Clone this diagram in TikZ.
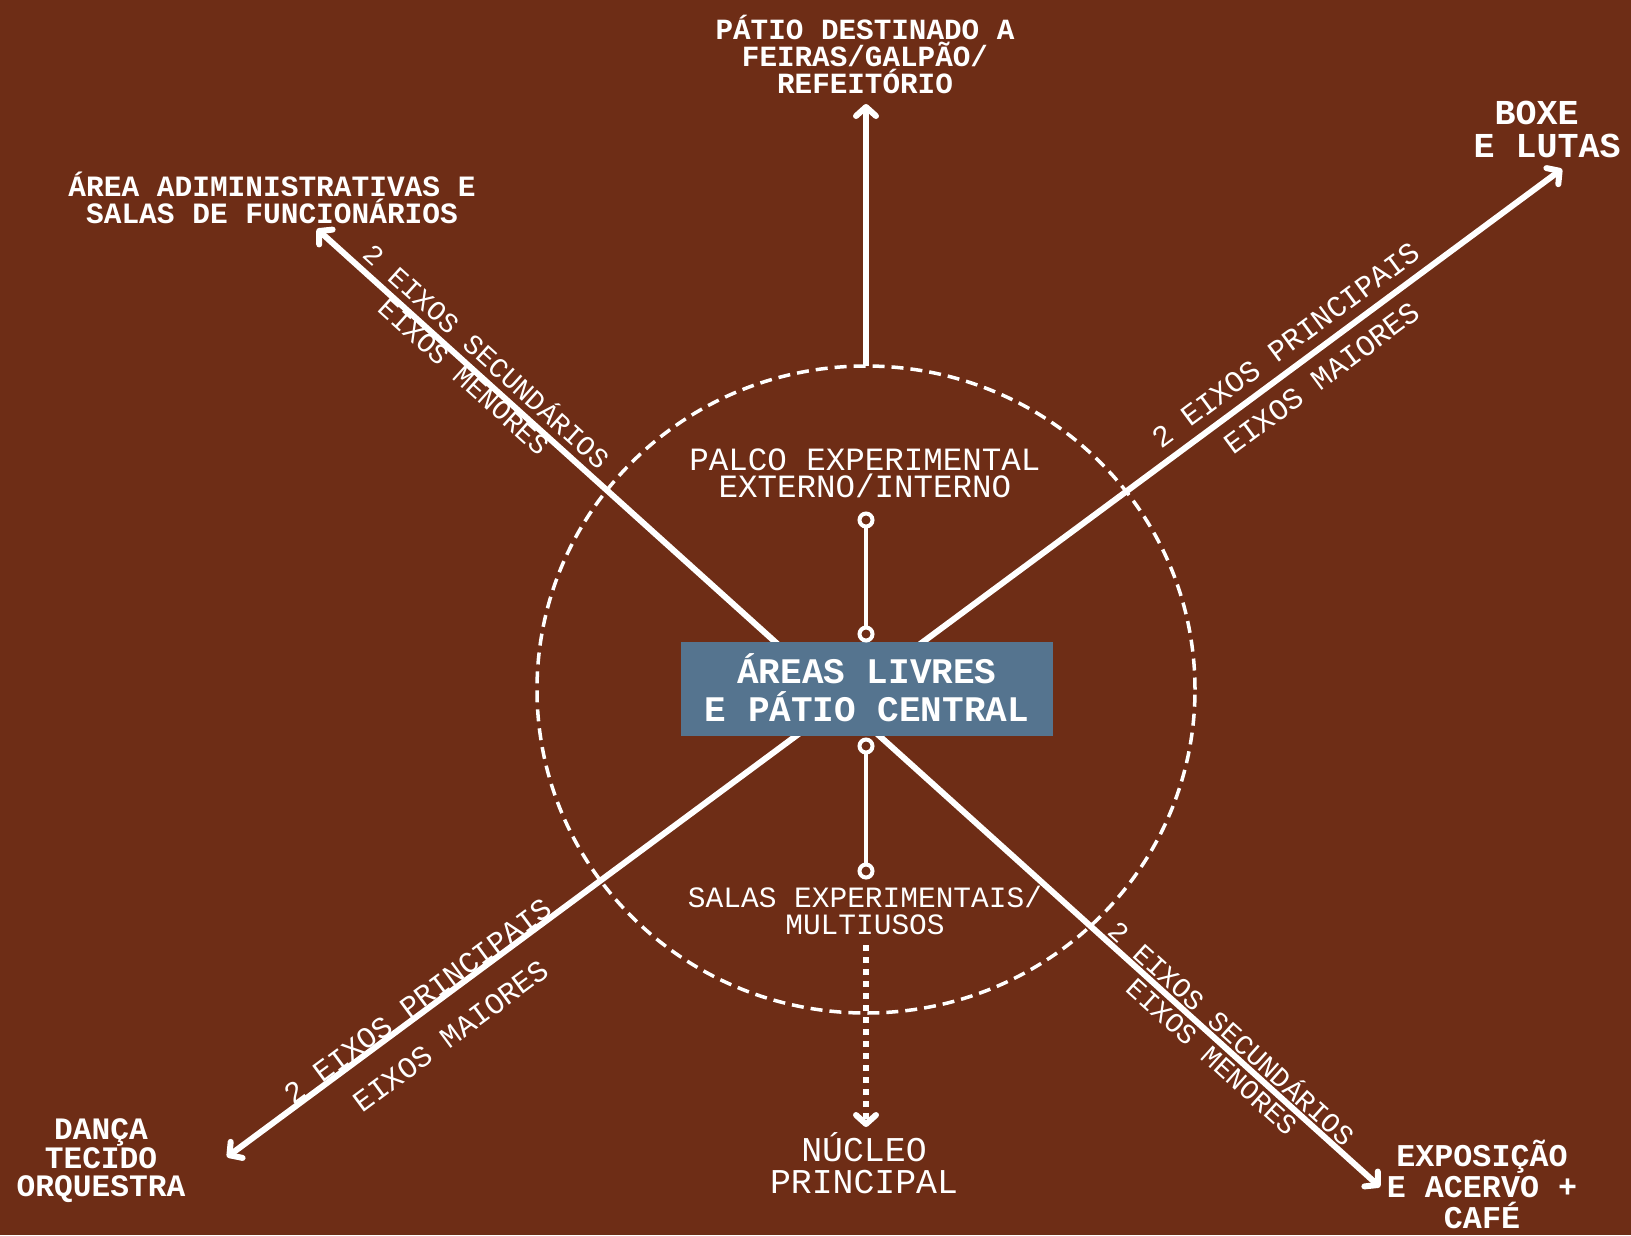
\documentclass[tikz,border=0pt]{standalone}
\usepackage{fontspec}
\usetikzlibrary{shapes.geometric, arrows.meta}
\newfontfamily\plexfont{Liberation Mono}
\definecolor{bgbrown}{RGB}{110, 45, 22}
\definecolor{boxblue}{RGB}{85, 116, 143}
\newcommand{\lblsz}[2]{\fontsize{#1}{#2}\selectfont}
\tikzstyle{bigbox} = [rectangle, fill=boxblue, text=white,
                      minimum width=372pt, minimum height=94pt,
                      inner sep=0pt, align=center,
                      font=\plexfont\bfseries\lblsz{36}{38}]
\tikzstyle{area} = [text=white, align=center, inner sep=0pt]
\tikzstyle{axistext} = [text=white, inner sep=0pt, font=\plexfont\lblsz{28}{30}]
\tikzstyle{joint} = [circle, draw=white, fill=bgbrown, line width=4pt,
                     minimum size=13pt, inner sep=0pt, outer sep=0pt]
\tikzstyle{stem} = [draw=white, line width=4pt]
\tikzstyle{ringline} = [ellipse, draw=white, line width=3.5pt,
                        dash pattern=on 12pt off 7pt,
                        minimum width=658pt, minimum height=647pt,
                        inner sep=0pt, outer sep=0pt]
\tikzstyle{axisline} = [draw=white, line width=6pt,
                        >={Straight Barb[length=9pt,width=20pt,round]}]
\tikzstyle{dotline} = [axisline, ->, dash pattern=on 6pt off 6pt]

\begin{document}
\begin{tikzpicture}[x=1pt, y=-1pt]

        \fill [bgbrown] (0,0) rectangle (1631,1235);
        \useasboundingbox (0,0) rectangle (1631,1235);

        \node (ring) [ringline] at (866,689.5) {};

        \coordinate (swtip) at (227,1157);
        \coordinate (netip) at (1562,169);
        \coordinate (nwtip) at (317,229);
        \coordinate (setip) at (1380,1187);
        \coordinate (toptip) at (866,104);

        \draw [axisline, <->] (swtip) -- (netip);
        \draw [axisline, <->] (nwtip) -- (setip);
        \draw [axisline, ->] (ring.north) -- (toptip);

        \node (centre) [bigbox] at (867,689) {\raisebox{3pt}{ÁREAS LIVRES}\\\raisebox{3pt}{E PÁTIO CENTRAL}};

        \node (j1) [joint] at (866,520) {};
        \node (j2) [joint] at (866,634) {};
        \node (j3) [joint] at (866,746) {};
        \node (j4) [joint] at (866,871) {};
        \draw [stem] (j1) -- (j2);
        \draw [stem] (j3) -- (j4);

        \node (patio) [area, font=\plexfont\bfseries\lblsz{29.3}{27}] at (865,54)
            {PÁTIO DESTINADO A\\FEIRAS/GALPÃO/\\REFEITÓRIO};
        \node (admin) [area, font=\plexfont\bfseries\lblsz{29.5}{27}] at (272,198)
            {ÁREA ADIMINISTRATIVAS E\\SALAS DE FUNCIONÁRIOS};
        \node (boxe) [area, font=\plexfont\bfseries\lblsz{35}{33}] at (1547,129)
            {BOXE\hphantom{X}\\E LUTAS};
        \node (danca) [area, font=\plexfont\bfseries\lblsz{31.2}{28.5}] at (101,1161)
            {DANÇA\\TECIDO\\ORQUESTRA};
        \node (expo) [area, font=\plexfont\bfseries\lblsz{31.7}{31}] at (1482,1184)
            {EXPOSIÇÃO\\E ACERVO +\\CAFÉ};

        \node (palco) [area, font=\plexfont\lblsz{32.5}{27}] at (865,473)
            {PALCO EXPERIMENTAL\\EXTERNO/INTERNO};
        \node (salas) [area, font=\plexfont\lblsz{29.5}{27}] at (865,910)
            {SALAS EXPERIMENTAIS/\\MULTIUSOS};
        \node (nucleo) [area, font=\plexfont\lblsz{34.8}{32}] at (864,1163)
            {NÚCLEO\\PRINCIPAL};

        \node (neprin) [axistext, font=\plexfont\lblsz{30}{32}, rotate=36.5] at (1286,345) {2 EIXOS PRINCIPAIS};
        \node (nemaior) [axistext, font=\plexfont\lblsz{30}{32}, rotate=36.5] at (1322,378) {EIXOS MAIORES};
        \node (swprin) [axistext, font=\plexfont\lblsz{30}{32}, rotate=36.5] at (418,1001) {2 EIXOS PRINCIPAIS};
        \node (swmaior) [axistext, font=\plexfont\lblsz{30}{32}, rotate=36.5] at (451,1036) {EIXOS MAIORES};
        \node (nwsec) [axistext, rotate=-42] at (488,355) {2 EIXOS SECUNDÁRIOS};
        \node (nwmenor) [axistext, rotate=-42] at (464,377) {EIXOS MENORES};
        \node (sesec) [axistext, rotate=-42] at (1233,1032) {2 EIXOS SECUNDÁRIOS};
        \node (semenor) [axistext, rotate=-42] at (1212,1057) {EIXOS MENORES};

        \coordinate (dotstart) at (866,945);
        \coordinate (dottip) at (866,1127);
        \draw [dotline] (dotstart) -- (dottip);

\end{tikzpicture}
\end{document}
